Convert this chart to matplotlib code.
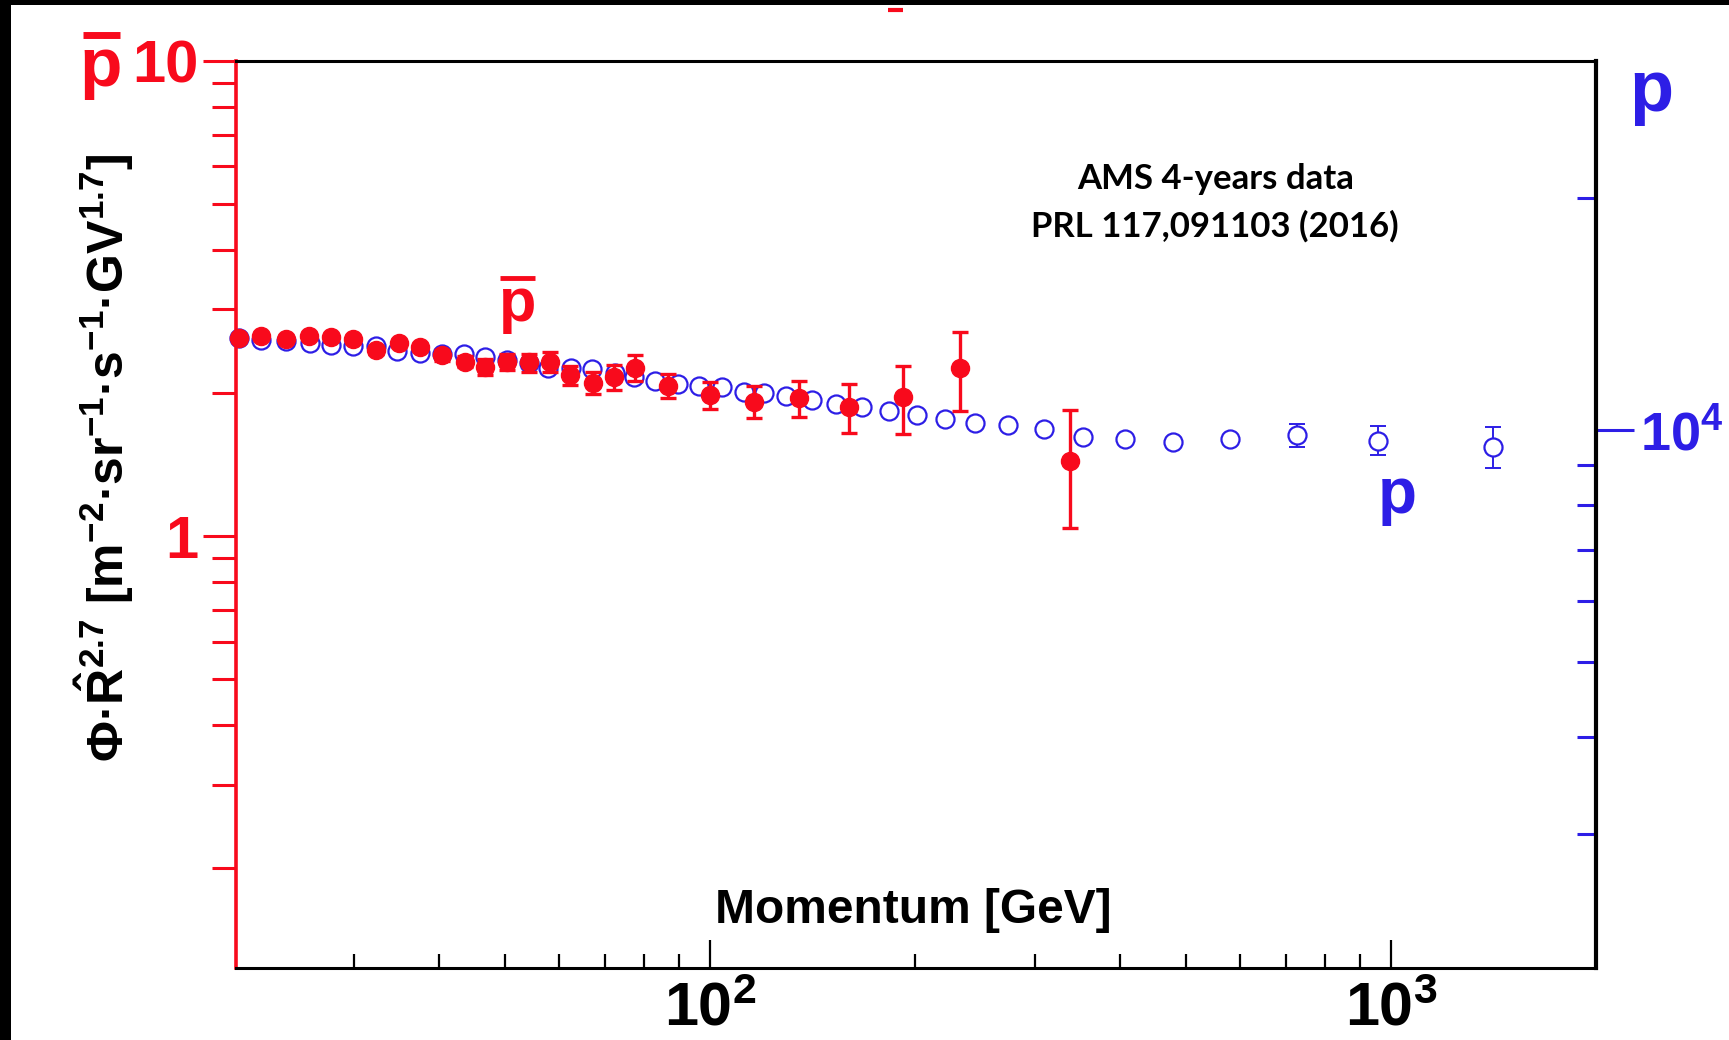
import matplotlib
matplotlib.use("Agg")
import matplotlib.pyplot as plt
from matplotlib.lines import Line2D
from matplotlib.patches import Rectangle
from matplotlib.ticker import FixedLocator, NullFormatter

RED = "#f80a1c"
BLUE = "#2d1ee6"

# antiproton: Phi * R^2.7  (left axis)
pbar_momentum = [20.3, 21.9, 23.8, 25.7, 27.7, 29.9, 32.3, 34.9, 37.5, 40.4,
                 43.6, 46.7, 50.3, 54.1, 58.1, 62.3, 67.3, 72.3, 77.6, 86.7,
                 99.8, 116, 135, 160, 192, 233, 338]
pbar_flux = [2.61, 2.64, 2.60, 2.64, 2.62, 2.60, 2.46, 2.55, 2.50, 2.40,
             2.33, 2.27, 2.33, 2.32, 2.33, 2.18, 2.10, 2.16, 2.26, 2.07,
             1.98, 1.92, 1.95, 1.87, 1.96, 2.26, 1.44]
pbar_err = [0.03, 0.03, 0.03, 0.03, 0.03, 0.04, 0.04, 0.04, 0.04, 0.06,
            0.06, 0.09, 0.09, 0.10, 0.11, 0.10, 0.11, 0.13, 0.14, 0.12,
            0.13, 0.15, 0.17, 0.22, 0.32, 0.43, 0.40]

# proton: Phi * R^2.7  (right axis)
p_momentum = [20.3, 21.9, 23.8, 25.8, 27.7, 29.9, 32.3, 34.7, 37.4, 40.3,
              43.5, 46.7, 50.2, 54.2, 57.8, 62.5, 67.1, 72.5, 77.3, 83.0,
              89.7, 96.3, 104, 112, 120, 129, 141, 153, 167, 183,
              201, 221, 245, 274, 309, 353, 407, 479, 580, 727,
              958, 1413]
p_flux = [13150, 13080, 13050, 12980, 12890, 12830, 12830, 12670, 12570, 12540,
          12540, 12420, 12320, 12220, 12050, 12020, 11980, 11840, 11700, 11580,
          11470, 11400, 11360, 11210, 11160, 11070, 10930, 10810, 10720, 10590,
          10460, 10320, 10200, 10150, 10020, 9780, 9750, 9660, 9730, 9850,
          9690, 9500]
p_err = [0] * 39 + [340, 420, 580]

plt.rcParams["font.family"] = ["Liberation Sans", "DejaVu Sans"]
plt.rcParams["mathtext.fontset"] = "custom"
plt.rcParams["mathtext.rm"] = "Liberation Sans:bold"
plt.rcParams["mathtext.bf"] = "Liberation Sans:bold"
plt.rcParams["mathtext.it"] = "Liberation Sans:bold"
plt.rcParams["mathtext.default"] = "rm"

W, H = 1729, 1040
fig = plt.figure(figsize=(W / 100, H / 100), dpi=100)
fig.patch.set_facecolor("white")


def fx(px):
    return px / W


def fy(py):
    return 1 - py / H


ax = fig.add_axes([fx(236), fy(968), fx(1596) - fx(236), fy(61) - fy(968)])
ax2 = ax.twinx()
ax.set_zorder(ax2.get_zorder() + 1)
ax.patch.set_visible(False)

# proton points (open blue circles)
ax2.plot(p_momentum, p_flux, "o", ms=13, mfc="white", mec=BLUE, mew=1.6,
         clip_on=False, zorder=2)
ie = [i for i, e in enumerate(p_err) if e > 0]
ax2.errorbar([p_momentum[i] for i in ie], [p_flux[i] for i in ie],
             yerr=[p_err[i] for i in ie], fmt="none", ecolor=BLUE,
             elinewidth=1.4, capsize=6, capthick=1.4, zorder=1)

# antiproton points (filled red)
ax.errorbar(pbar_momentum, pbar_flux, yerr=pbar_err, fmt="o", ms=13,
            color=RED, ecolor=RED, elinewidth=2.4, capsize=6, capthick=2.4,
            clip_on=False)

ax.set_xscale("log")
ax.set_yscale("log")
ax.set_xlim(20.1, 2000)
ax.set_ylim(0.1233, 10)
ax2.set_yscale("log")
ax2.set_ylim(2010, 30060)

ax.set_xticks([100, 1000])
ax.set_xticklabels([r"$10^{2}$", r"$10^{3}$"])
ax.tick_params(axis="x", which="major", direction="in", length=20, width=1.6,
               labelsize=44, pad=10, top=False)
ax.tick_params(axis="x", which="minor", direction="in", length=10, width=1.6,
               top=False)

ax.set_yticks([1, 10])
ax.set_yticklabels(["1", "10"])
ax.yaxis.set_minor_formatter(NullFormatter())
ax.tick_params(axis="y", which="major", direction="out", length=24, width=2.2,
               color=RED, labelcolor=RED, labelsize=43, pad=3, right=False)
ax.tick_params(axis="y", which="minor", direction="out", length=17, width=2.2,
               color=RED, right=False)
for lab in ax.get_yticklabels():
    lab.set_fontweight("bold")

ax2.set_yticks([10000])
ax2.set_yticklabels([r"$10^{4}$"])
ax2.yaxis.set_minor_locator(FixedLocator([2000, 3000, 4000, 5000, 6000, 7000,
                                          8000, 9000, 20000]))
ax2.yaxis.set_minor_formatter(NullFormatter())
ax2.tick_params(axis="y", which="major", direction="out", length=27,
                width=2.2, color=BLUE, labelcolor=BLUE, labelsize=39, pad=5)
ax2.tick_params(axis="y", which="minor", direction="in", length=14,
                width=2.2, color=BLUE)

ax.spines["left"].set_color(RED)
ax.spines["left"].set_linewidth(2.6)
ax.spines["top"].set_linewidth(2.2)
ax.spines["bottom"].set_linewidth(2.2)
ax.spines["right"].set_visible(False)
for s in ["left", "top", "bottom"]:
    ax2.spines[s].set_visible(False)
ax2.spines["right"].set_linewidth(3.0)

# texts
ax.text(0.498, 0.063, "Momentum [GeV]", transform=ax.transAxes,
        ha="center", va="center", fontsize=34.5, fontweight="bold")
ax.text(0.72, 0.870, "AMS 4-years data", transform=ax.transAxes,
        ha="center", va="center", fontsize=25, fontweight="bold",
        family=["Lato", "DejaVu Sans"])
ax.text(0.72, 0.818, "PRL 117,091103 (2016)", transform=ax.transAxes,
        ha="center", va="center", fontsize=25, fontweight="bold",
        family=["Lato", "DejaVu Sans"])

fig.text(fx(104), fy(458),
         "Φ·$\\hat{R}^{2.7}$ [m$^{-2}$·sr$^{-1}$·s$^{-1}$·GV$^{1.7}$]",
         rotation=90, ha="center", va="center", fontsize=36,
         fontweight="bold")

# particle labels
fig.text(fx(101), fy(86), "p", color=RED, fontsize=50, fontweight="bold",
         ha="center", va="baseline")
fig.add_artist(Line2D([fx(83), fx(120)], [fy(34.5)] * 2, color=RED, lw=5,
                      solid_capstyle="butt"))
fig.text(fx(518), fy(321), "p", color=RED, fontsize=44, fontweight="bold",
         ha="center", va="baseline")
fig.add_artist(Line2D([fx(500), fx(535)], [fy(278)] * 2, color=RED, lw=3.5,
                      solid_capstyle="butt"))
fig.add_artist(Line2D([fx(888), fx(903)], [fy(10)] * 2, color=RED, lw=3,
                      solid_capstyle="butt"))
fig.text(fx(1397), fy(513), "p", color=BLUE, fontsize=46, fontweight="bold",
         ha="center", va="baseline")
fig.text(fx(1651), fy(111), "p", color=BLUE, fontsize=52, fontweight="bold",
         ha="center", va="baseline")

# black frame remnants at left / top edge
fig.add_artist(Rectangle((0, 0), fx(11), 1, transform=fig.transFigure,
                         color="black", lw=0))
fig.add_artist(Rectangle((0, fy(4.5)), 1, 4.5 / H, transform=fig.transFigure,
                         color="black", lw=0))

fig.savefig("out.png", dpi=100)
